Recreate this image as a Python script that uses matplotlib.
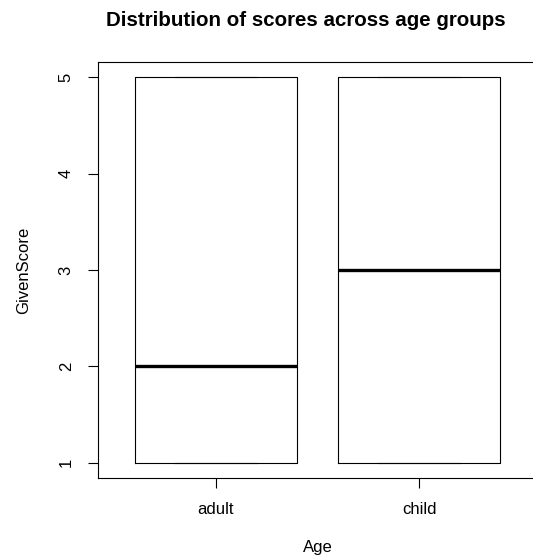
import matplotlib.pyplot as plt

plt.rcParams['font.family'] = ['Liberation Sans', 'DejaVu Sans']

# Summary stats of GivenScore per age group
groups = ['adult', 'child']
whislo = [1, 1]
q1 = [1, 1]
med = [2, 3]
q3 = [5, 5]
whishi = [5, 5]

stats = [
    {'label': g, 'whislo': lo, 'q1': a, 'med': m, 'q3': b, 'whishi': hi}
    for g, lo, a, m, b, hi in zip(groups, whislo, q1, med, q3, whishi)
]

W, H = 533, 559
fig = plt.figure(figsize=(W / 100, H / 100), dpi=100)
left, right, top, bottom = 98, 537, 62, 478
ax = fig.add_axes([left / W, 1 - bottom / H, (right - left) / W, (bottom - top) / H])

ax.bxp(stats, positions=[1, 2], widths=0.8, capwidths=0.4, showfliers=False,
       boxprops=dict(color='black', linewidth=0.8),
       whiskerprops=dict(color='black', linewidth=0.8, linestyle='--'),
       capprops=dict(color='black', linewidth=0.8),
       medianprops=dict(color='black', linewidth=2.4))

ax.set_xlim(0.42, 2.58)
ax.set_ylim(0.84, 5.16)
ax.set_yticks([1, 2, 3, 4, 5])
ax.set_xticks([1, 2])
ax.set_xticklabels(groups)
for s in ax.spines.values():
    s.set_linewidth(0.8)
ax.tick_params(axis='both', length=7.5, width=0.8, labelsize=12, pad=10)
for lab in ax.get_yticklabels():
    lab.set_rotation(90)
    lab.set_va('center')

ax.set_xlabel('Age', fontsize=12, labelpad=16)
ax.set_ylabel('GivenScore', fontsize=12, labelpad=20)

fig.text(306 / W, 1 - 21 / H, 'Distribution of scores across age groups',
         ha='center', va='center', fontsize=14.8, fontweight='bold')

fig.savefig('out.png', dpi=100)
